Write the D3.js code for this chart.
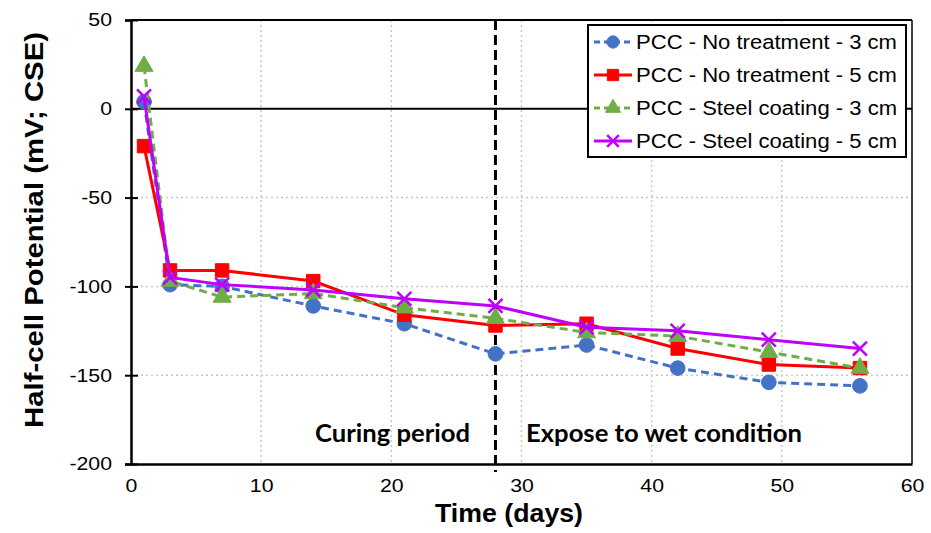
<!DOCTYPE html>
<html>
<head>
<meta charset="utf-8">
<script src="https://cdn.jsdelivr.net/npm/d3@7"></script>
<style>
  body { margin: 0; background: #fff; }
  svg { display: block; }
</style>
</head>
<body>
<div id="chart"></div>
<script>
// days at which readings were taken
var days = [1, 3, 7, 14, 21, 28, 35, 42, 49, 56];

var noTreat3 = [4, -99, -100, -111, -121, -138, -133, -146, -154, -156];
var noTreat5 = [-21, -91, -91, -97, -116, -122, -121, -135, -144, -146];
var steel3 = [24, -97, -106, -104, -112, -118, -126, -128, -137, -146];
var steel5 = [7, -95, -99, -102, -107, -111, -123, -125, -130, -135];

var seriesNames = [
  "PCC - No treatment - 3 cm",
  "PCC - No treatment - 5 cm",
  "PCC - Steel coating - 3 cm",
  "PCC - Steel coating - 5 cm"
];

var xTicks = [0, 10, 20, 30, 40, 50, 60];
var yTicks = [50, 0, -50, -100, -150, -200];

var W = 931, H = 533;
var FONT = "Liberation Sans, Arial, sans-serif";
var svg = d3.select("#chart").append("svg").attr("width", W).attr("height", H);

var x = d3.scaleLinear().domain([0, 60]).range([131, 912]);
var y = d3.scaleLinear().domain([-200, 50]).range([464, 20]);

// the original text is a bit wider than Liberation, stretch it
function stretch(sel, k) {
  sel.each(function() {
    var l = this.getComputedTextLength();
    d3.select(this).attr("textLength", l * k).attr("lengthAdjust", "spacingAndGlyphs");
  });
}
function fit(sel, w) {
  sel.attr("textLength", w).attr("lengthAdjust", "spacingAndGlyphs");
}

var series = [
  {name: seriesNames[0], vals: noTreat3, color: "#4472C4", dash: "8,5", sym: d3.symbolCircle, size: 170},
  {name: seriesNames[1], vals: noTreat5, color: "#FF0000", dash: null, sym: d3.symbolSquare, size: 180},
  {name: seriesNames[2], vals: steel3, color: "#70AD47", dash: "8,5", sym: d3.symbolTriangle, size: 140},
  {name: seriesNames[3], vals: steel5, color: "#BF00FF", dash: null, sym: d3.symbolX, size: 130}
];

// gridlines (dotted)
var grid = svg.append("g");
grid.selectAll(".gx").data(xTicks.filter(function(t) { return t > 0 && t < 60; }))
  .enter().append("line")
  .attr("x1", function(d) { return x(d); }).attr("x2", function(d) { return x(d); })
  .attr("y1", y(50)).attr("y2", y(-200))
  .attr("stroke", "#c8c8c8").attr("stroke-width", 1.5).attr("stroke-dasharray", "2,3");
grid.selectAll(".gy").data(yTicks.filter(function(t) { return t > -200 && t < 50 && t !== 0; }))
  .enter().append("line")
  .attr("x1", x(0)).attr("x2", x(60))
  .attr("y1", function(d) { return y(d); }).attr("y2", function(d) { return y(d); })
  .attr("stroke", "#c8c8c8").attr("stroke-width", 1.5).attr("stroke-dasharray", "2,3");

// frame top/right
svg.append("line").attr("x1", x(0)).attr("x2", x(60)).attr("y1", y(50)).attr("y2", y(50))
  .attr("stroke", "#000").attr("stroke-width", 2);
svg.append("line").attr("x1", x(60)).attr("x2", x(60)).attr("y1", y(50)).attr("y2", y(-200))
  .attr("stroke", "#000").attr("stroke-width", 1.5);

// zero line
svg.append("line").attr("x1", x(0)).attr("x2", x(60)).attr("y1", y(0)).attr("y2", y(0))
  .attr("stroke", "#000").attr("stroke-width", 2);

// y axis
var yAxis = d3.axisLeft(y).tickValues(yTicks).tickSize(6).tickPadding(13)
  .tickFormat(function(d) { return String(d); });
var gy = svg.append("g").attr("transform", "translate(" + x(0) + ",0)").call(yAxis);
gy.select(".domain").attr("stroke-width", 2.5);
gy.selectAll(".tick line").attr("stroke-width", 2).attr("x2", 7).attr("x1", -6);
gy.selectAll("text").attr("font-family", FONT).attr("font-size", 18.5).attr("fill", "#000");
stretch(gy.selectAll("text"), 1.15);

// x axis
var xAxis = d3.axisBottom(x).tickValues(xTicks).tickSize(0).tickPadding(15)
  .tickFormat(function(d) { return String(d); });
var gx = svg.append("g").attr("transform", "translate(0," + y(-200) + ")").call(xAxis);
gx.select(".domain").attr("stroke-width", 2.5);
gx.selectAll("text").attr("font-family", FONT).attr("font-size", 18.5).attr("fill", "#000");
stretch(gx.selectAll("text"), 1.15);

// divider between curing and exposure
svg.append("line").attr("x1", x(28)).attr("x2", x(28)).attr("y1", y(50)).attr("y2", y(-200) + 8)
  .attr("stroke", "#000").attr("stroke-width", 3).attr("stroke-dasharray", "10,5");

fit(svg.append("text").attr("x", 470).attr("y", 442).attr("text-anchor", "end")
  .attr("font-family", "Lato, Open Sans, sans-serif").attr("font-weight", "bold")
  .attr("font-size", 24).text("Curing period"), 155);
fit(svg.append("text").attr("x", 526).attr("y", 442)
  .attr("font-family", "Lato, Open Sans, sans-serif").attr("font-weight", "bold")
  .attr("font-size", 24).text("Expose to wet condition"), 276);

// lines and markers
var line = d3.line().x(function(d) { return x(d[0]); }).y(function(d) { return y(d[1]); });
series.forEach(function(s) {
  var pts = days.map(function(d, i) { return [d, s.vals[i]]; });
  svg.append("path").datum(pts).attr("d", line)
    .attr("fill", "none").attr("stroke", s.color).attr("stroke-width", 3)
    .attr("stroke-dasharray", s.dash);
  svg.selectAll(null).data(pts).enter().append("path")
    .attr("transform", function(d) { return "translate(" + x(d[0]) + "," + y(d[1]) + ")"; })
    .attr("d", d3.symbol().type(s.sym).size(s.size))
    .attr("fill", s.color)
    .attr("stroke", s.color)
    .attr("stroke-width", s.sym === d3.symbolX ? 2.5 : 1);
});

// axis titles
fit(svg.append("text").attr("x", 509).attr("y", 522).attr("text-anchor", "middle")
  .attr("font-family", FONT).attr("font-weight", "bold")
  .attr("font-size", 26).text("Time (days)"), 148);
fit(svg.append("text").attr("transform", "translate(43,230) rotate(-90)").attr("text-anchor", "middle")
  .attr("font-family", FONT).attr("font-weight", "bold")
  .attr("font-size", 25).text("Half-cell Potential (mV; CSE)"), 396);

// legend
var lg = svg.append("g");
lg.append("rect").attr("x", 588).attr("y", 25).attr("width", 318).attr("height", 132)
  .attr("fill", "#fff").attr("stroke", "#000").attr("stroke-width", 2);
series.forEach(function(s, i) {
  var cy = 42 + i * 33;
  lg.append("line").attr("x1", 594).attr("x2", 632).attr("y1", cy).attr("y2", cy)
    .attr("stroke", s.color).attr("stroke-width", 3).attr("stroke-dasharray", s.dash ? "6,4" : null);
  lg.append("path").attr("transform", "translate(613," + cy + ")")
    .attr("d", d3.symbol().type(s.sym).size(s.size * 0.7))
    .attr("fill", s.color).attr("stroke", s.color)
    .attr("stroke-width", s.sym === d3.symbolX ? 2.5 : 1);
  lg.append("text").attr("class", "lgt").attr("x", 636).attr("y", cy + 7)
    .attr("font-family", FONT).attr("font-size", 19.5)
    .text(s.name);
});
var t0 = lg.select(".lgt").node().getComputedTextLength();
stretch(lg.selectAll(".lgt"), 261 / t0);
</script>
</body>
</html>
